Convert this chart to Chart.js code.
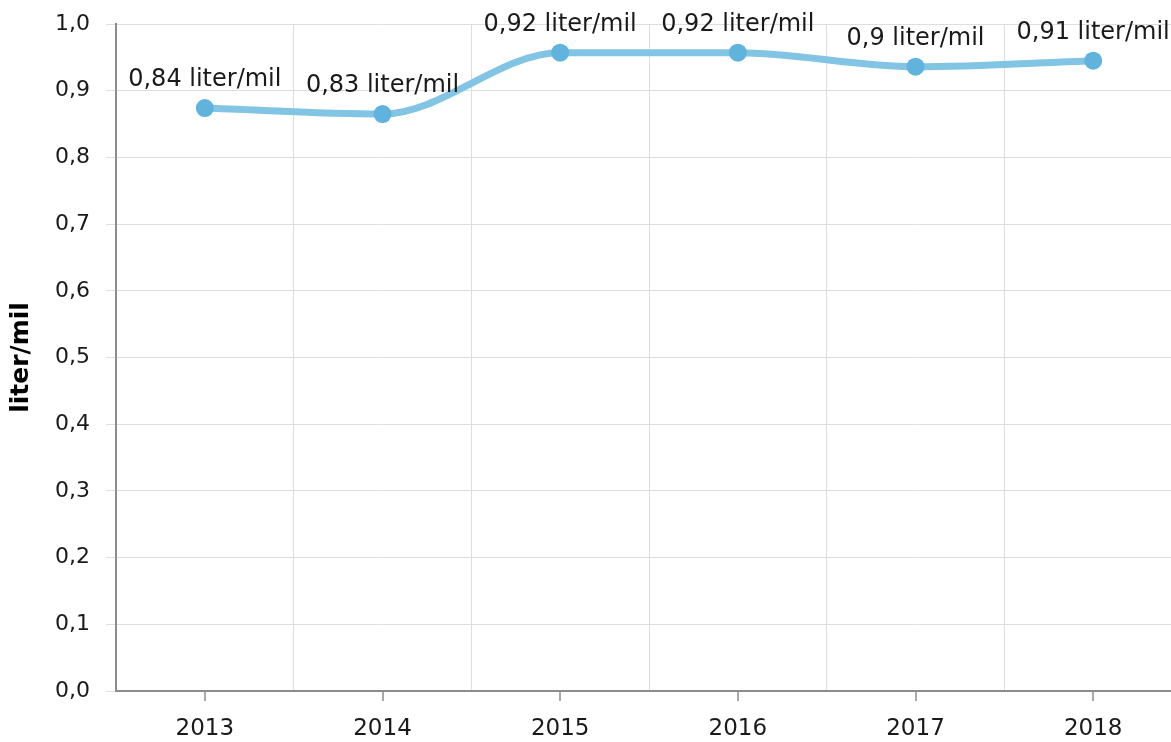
<!DOCTYPE html>
<html>
<head>
<meta charset="utf-8">
<script src="https://cdn.jsdelivr.net/npm/chart.js@4"></script>
<style>
  html, body { margin: 0; padding: 0; overflow: hidden; background: #fff; }
  #wrap { width: 1191px; height: 742px; }
</style>
</head>
<body>
<div id="wrap"><canvas id="chart" width="1191" height="742"></canvas></div>
<script>
// values
const years = ['2013', '2014', '2015', '2016', '2017', '2018'];
const consumption = [0.874, 0.865, 0.957, 0.957, 0.936, 0.945];
const valueLabels = ['0,84 liter/mil', '0,83 liter/mil', '0,92 liter/mil', '0,92 liter/mil', '0,9 liter/mil', '0,91 liter/mil'];
const unit = 'liter/mil';

const FONT = 'DejaVu Sans, Verdana, sans-serif';

// labels above each point
const pointLabels = {
  id: 'pointLabels',
  afterDatasetsDraw(chart) {
    const ctx = chart.ctx;
    const meta = chart.getDatasetMeta(0);
    ctx.save();
    ctx.font = '24px ' + FONT;
    ctx.fillStyle = '#1a1a1a';
    ctx.textAlign = 'center';
    ctx.textBaseline = 'middle';
    meta.data.forEach((pt, i) => {
      ctx.fillText(valueLabels[i], pt.x, pt.y - 28);
    });
    ctx.restore();
  }
};

// tick marks under each category (grid lines sit between categories)
const xTickMarks = {
  id: 'xTickMarks',
  afterDraw(chart) {
    const ctx = chart.ctx;
    const x = chart.scales.x;
    ctx.save();
    ctx.strokeStyle = '#8c8c8c';
    ctx.lineWidth = 1.5;
    years.forEach((y, i) => {
      const px = Math.round(x.getPixelForValue(i));
      ctx.beginPath();
      ctx.moveTo(px, x.top);
      ctx.lineTo(px, x.top + 10);
      ctx.stroke();
    });
    ctx.restore();
  }
};

new Chart(document.getElementById('chart'), {
  type: 'line',
  data: {
    labels: years,
    datasets: [{
      data: consumption,
      borderColor: '#82c4e4',
      borderWidth: 7,
      backgroundColor: '#5fb3dc',
      pointBackgroundColor: '#5fb3dc',
      pointBorderWidth: 0,
      pointRadius: 9,
      tension: 0.4,
      cubicInterpolationMode: 'monotone',
      clip: false
    }]
  },
  options: {
    responsive: false,
    animation: false,
    layout: { padding: { top: 24, right: 0, bottom: 0, left: 0 } },
    plugins: {
      legend: { display: false },
      tooltip: { enabled: false }
    },
    scales: {
      x: {
        offset: true,
        afterFit: s => { s.height = 51; s.paddingLeft = 0; s.paddingRight = 0; },
        grid: { offset: true, color: '#dedede', drawTicks: false },
        border: { color: '#8c8c8c', width: 2 },
        ticks: {
          color: '#1a1a1a',
          font: { family: FONT, size: 23 },
          padding: 24,
          maxRotation: 0
        }
      },
      y: {
        min: 0,
        max: 1,
        afterFit: s => { s.width = 116; s.paddingTop = 0; s.paddingBottom = 0; },
        grid: { color: '#dedede', tickLength: 10 },
        border: { color: '#8c8c8c', width: 2 },
        ticks: {
          stepSize: 0.1,
          color: '#1a1a1a',
          font: { family: FONT, size: 22 },
          padding: 16,
          callback: v => v.toFixed(1).replace('.', ',')
        },
        title: {
          display: true,
          text: unit,
          color: '#000',
          font: { family: FONT, size: 25, weight: 'bold' },
          padding: { top: 6, bottom: 0 }
        }
      }
    }
  },
  plugins: [pointLabels, xTickMarks]
});
</script>
</body>
</html>
